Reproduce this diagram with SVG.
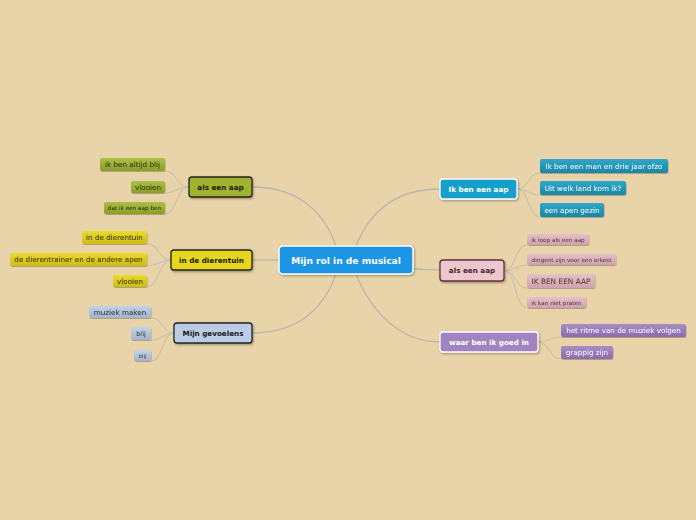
<svg xmlns="http://www.w3.org/2000/svg" width="696" height="520" viewBox="0 0 696 520">
<style>
text{font-family:"DejaVu Sans","Liberation Sans",sans-serif;}
.conn path{fill:none;stroke:#bab6ab;stroke-width:1.3;}
.conn .sub{stroke:#c9c0a8;stroke-width:1.1;}
.main{stroke-width:1.3;filter:url(#sh);}
.mt{font-weight:bold;font-size:7.2px;text-anchor:middle;}
.ct{font-size:7.2px;text-anchor:middle;}
.ct.s{font-size:5.7px;}
.ct.xs{font-size:5px;}
.ct.m{font-size:6.4px;}
.ct.l{font-size:7.4px;}
.child{filter:url(#sh2);}
</style>
<defs>
<filter id="sh" x="-20%" y="-30%" width="140%" height="170%"><feDropShadow dx="1" dy="1.2" stdDeviation="0.8" flood-color="#000" flood-opacity="0.35"/></filter>
<filter id="sh2" x="-20%" y="-30%" width="140%" height="170%"><feDropShadow dx="0.5" dy="1" stdDeviation="0.6" flood-color="#000" flood-opacity="0.25"/></filter>
<linearGradient id="gG" x1="0" y1="0" x2="0" y2="1"><stop offset="0" stop-color="#acc048"/><stop offset="1" stop-color="#8a9e28"/></linearGradient>
<linearGradient id="gY" x1="0" y1="0" x2="0" y2="1"><stop offset="0" stop-color="#eadb30"/><stop offset="1" stop-color="#cdbd12"/></linearGradient>
<linearGradient id="gB" x1="0" y1="0" x2="0" y2="1"><stop offset="0" stop-color="#c2d2e8"/><stop offset="1" stop-color="#a3b4cc"/></linearGradient>
<linearGradient id="gT" x1="0" y1="0" x2="0" y2="1"><stop offset="0" stop-color="#30a8c8"/><stop offset="1" stop-color="#1a86a6"/></linearGradient>
<linearGradient id="gP" x1="0" y1="0" x2="0" y2="1"><stop offset="0" stop-color="#e2c2c8"/><stop offset="1" stop-color="#cda3ad"/></linearGradient>
<linearGradient id="gV" x1="0" y1="0" x2="0" y2="1"><stop offset="0" stop-color="#a88ec6"/><stop offset="1" stop-color="#8a6cae"/></linearGradient>
</defs>
<rect width="696" height="520" fill="#e9d4a9"/>

<g class="conn" id="connectors">
<path d="M336,246 C322,206 292,187 252,187"/>
<path d="M279,260 L252,260"/>
<path d="M336,274 C322,314 292,333 252,333"/>
<path d="M356,246 C372,206 402,189 440,189"/>
<path d="M413,269 C425,269 430,270 440,270"/>
<path d="M356,274 C372,314 402,342 440,342"/>

<path class="sub" d="M189,187 C176,187 177,171 165,171"/>
<path class="sub" d="M189,187 C176,187 177,193 165,193"/>
<path class="sub" d="M189,187 C176,187 177,214 165,214"/>

<path class="sub" d="M171,260 C159,260 159,244 147,244"/>
<path class="sub" d="M171,260 C159,260 159,266 147,266"/>
<path class="sub" d="M171,260 C159,260 159,287 147,287"/>

<path class="sub" d="M174,333 C162,333 163,318 151,318"/>
<path class="sub" d="M174,333 C162,333 163,340 151,340"/>
<path class="sub" d="M174,333 C162,333 163,361 151,361"/>

<path class="sub" d="M517,189 C529,189 528,173 540,173"/>
<path class="sub" d="M517,189 C529,189 528,195 540,195"/>
<path class="sub" d="M517,189 C529,189 528,217 540,217"/>

<path class="sub" d="M504,271 C516,271 515,245 527,245"/>
<path class="sub" d="M504,271 C516,271 515,265 527,265"/>
<path class="sub" d="M504,271 C516,271 515,288 527,288"/>
<path class="sub" d="M504,271 C516,271 515,308 527,308"/>

<path class="sub" d="M538,342 C550,342 549,337 561,337"/>
<path class="sub" d="M538,342 C550,342 549,359 561,359"/>
</g>

<g id="center">
<rect x="279" y="246" width="134" height="28" rx="4" fill="#1b95e4" stroke="#ffffff" stroke-width="1.5" filter="url(#sh)"/>
<text x="346" y="264" font-size="9.1" font-weight="bold" fill="#ffffff" text-anchor="middle">Mijn rol in de musical</text>
</g>

<g id="nodeA">
<rect class="main" x="189" y="177" width="63" height="20" rx="3" fill="#a0b32f" stroke="#222"/>
<text class="mt" x="220.5" y="189.6" fill="#1a1a0a">als een aap</text>
</g>
<g id="nodeB">
<rect class="main" x="171" y="250" width="81" height="20" rx="3" fill="#e6d71c" stroke="#222"/>
<text class="mt" x="211.5" y="262.6" fill="#1a1a0a">in de dierentuin</text>
</g>
<g id="nodeC">
<rect class="main" x="174" y="323" width="78" height="20" rx="3" fill="#bacce6" stroke="#222"/>
<text class="mt" x="213" y="335.6" fill="#1a1a1a">Mijn gevoelens</text>
</g>
<g id="nodeD">
<rect class="main" x="440" y="179" width="77" height="20" rx="3" fill="#189fc8" stroke="#ffffff"/>
<text class="mt" x="478.5" y="191.6" fill="#ffffff">Ik ben een aap</text>
</g>
<g id="nodeE">
<rect class="main" x="440" y="260" width="64" height="21" rx="3" fill="#e9c9cd" stroke="#6c2a3c"/>
<text class="mt" x="472" y="273.1" fill="#5a2030">als een aap</text>
</g>
<g id="nodeF">
<rect class="main" x="440" y="332" width="98" height="20" rx="3" fill="#a083c0" stroke="#ffffff"/>
<text class="mt" x="489" y="344.6" fill="#ffffff">waar ben ik goed in</text>
</g>

<g id="a1" class="child"><rect x="100" y="158" width="65" height="13" rx="2" fill="url(#gG)"/><text class="ct" x="132.5" y="167.2" fill="#262a08">ik ben altijd blij</text></g>
<g id="a2" class="child"><rect x="131" y="181" width="34" height="12" rx="2" fill="url(#gG)"/><text class="ct" x="148" y="189.6" fill="#262a08">vlooien</text></g>
<g id="a3" class="child"><rect x="104" y="202" width="61" height="12" rx="2" fill="url(#gG)"/><text class="ct s" x="134.5" y="210" fill="#262a08">dat ik een aap ben</text></g>

<g id="b1" class="child"><rect x="82" y="231" width="65" height="13" rx="2" fill="url(#gY)"/><text class="ct" x="114.5" y="240.2" fill="#2a2608">in de dierentuin</text></g>
<g id="b2" class="child"><rect x="10" y="253" width="137" height="13" rx="2" fill="url(#gY)"/><text class="ct" x="78.5" y="262.2" fill="#2a2608">de dierentrainer en de andere apen</text></g>
<g id="b3" class="child"><rect x="113" y="275" width="34" height="12" rx="2" fill="url(#gY)"/><text class="ct" x="130" y="283.6" fill="#2a2608">vlooien</text></g>

<g id="c1" class="child"><rect x="89" y="306" width="62" height="12" rx="2" fill="url(#gB)"/><text class="ct" x="120" y="314.6" fill="#2a2a2a">muziek maken</text></g>
<g id="c2" class="child"><rect x="131" y="327" width="20" height="13" rx="2" fill="url(#gB)"/><text class="ct m" x="141" y="335.8" fill="#2a2a2a">blij</text></g>
<g id="c3" class="child"><rect x="134" y="350" width="17" height="11" rx="2" fill="url(#gB)"/><text class="ct xs" x="142.5" y="357.6" fill="#2a2a2a">blij</text></g>

<g id="d1" class="child"><rect x="540" y="159" width="128" height="14" rx="2" fill="url(#gT)"/><text class="ct" x="604" y="168.6" fill="#ffffff">Ik ben een man en drie jaar ofzo</text></g>
<g id="d2" class="child"><rect x="540" y="181" width="86" height="14" rx="2" fill="url(#gT)"/><text class="ct" x="583" y="190.6" fill="#ffffff">Uit welk land kom ik?</text></g>
<g id="d3" class="child"><rect x="540" y="203" width="64" height="14" rx="2" fill="url(#gT)"/><text class="ct" x="572" y="212.6" fill="#ffffff">een apen gezin</text></g>

<g id="e1" class="child"><rect x="527" y="234" width="62" height="11" rx="2" fill="url(#gP)"/><text class="ct s" x="558" y="241.8" fill="#5e2a3a">ik loop als een aap</text></g>
<g id="e2" class="child"><rect x="527" y="254" width="89" height="11" rx="2" fill="url(#gP)"/><text class="ct s" x="571.5" y="261.8" fill="#5e2a3a">dirigent zijn voor een orkest</text></g>
<g id="e3" class="child"><rect x="527" y="274" width="68" height="14" rx="2" fill="url(#gP)"/><text class="ct l" x="561" y="283.8" fill="#5e2a3a">IK BEN EEN AAP</text></g>
<g id="e4" class="child"><rect x="527" y="297" width="59" height="11" rx="2" fill="url(#gP)"/><text class="ct s" x="556.5" y="304.8" fill="#5e2a3a">ik kan niet praten</text></g>

<g id="f1" class="child"><rect x="561" y="324" width="125" height="13" rx="2" fill="url(#gV)"/><text class="ct" x="623.5" y="333.2" fill="#ffffff">het ritme van de muziek volgen</text></g>
<g id="f2" class="child"><rect x="561" y="346" width="52" height="13" rx="2" fill="url(#gV)"/><text class="ct" x="587" y="355.2" fill="#ffffff">grappig zijn</text></g>
</svg>
